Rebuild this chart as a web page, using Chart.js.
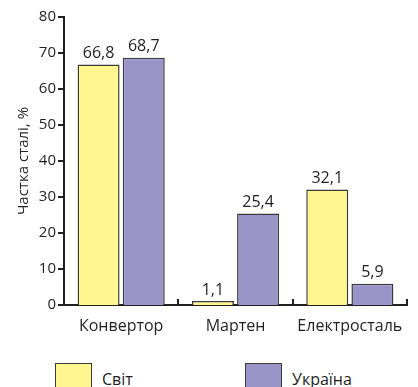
<!DOCTYPE html>
<html>
<head>
<meta charset="utf-8">
<script src="https://cdn.jsdelivr.net/npm/chart.js@4"></script>
<style>
  html, body { margin: 0; padding: 0; background: #fff; overflow: hidden; }
  #wrap { position: relative; width: 418px; height: 387px; }
  #legend { position: absolute; left: 0; top: 363px; width: 418px; font-family: "Open Sans", sans-serif; font-size: 16px; color: #231f20; }
  .item { position: absolute; top: 0; display: flex; align-items: flex-start; }
  .box { width: 37px; height: 26px; box-sizing: border-box; border: 1.5px solid #3a3a3a; margin-right: 10px; }
  .txt { line-height: 20px; padding-top: 6px; }
</style>
</head>
<body>
<div id="wrap">
  <canvas id="chart" width="418" height="350"></canvas>
  <div id="legend"></div>
</div>
<script>
  const categories = ["Конвертор", "Мартен", "Електросталь"];
  const seriesNames = ["Світ", "Україна"];
  const svit = [66.8, 1.1, 32.1];
  const ukraina = [68.7, 25.4, 5.9];
  const yTicks = [0, 10, 20, 30, 40, 50, 60, 70, 80];

  const colors = ["#fff68f", "#9b94c9"];
  const ink = "#231f20";
  const font = "'Open Sans', sans-serif";

  // підписи значень і риски осей
  const decorations = {
    id: "decorations",
    afterDatasetsDraw(chart) {
      const ctx = chart.ctx;
      const x = chart.scales.x, y = chart.scales.y;
      ctx.save();
      ctx.font = "16px " + font;
      ctx.fillStyle = ink;
      ctx.textAlign = "center";
      ctx.textBaseline = "bottom";
      chart.data.datasets.forEach((ds, i) => {
        chart.getDatasetMeta(i).data.forEach((bar, j) => {
          ctx.fillText(ds.data[j].toFixed(1).replace(".", ","), bar.x, bar.y - 3);
        });
      });

      ctx.strokeStyle = ink;
      ctx.lineWidth = 2;
      const step = (x.right - x.left) / categories.length;
      for (let i = 1; i <= categories.length; i++) {
        const px = Math.round(x.left + i * step);
        ctx.beginPath();
        ctx.moveTo(px, x.top);
        ctx.lineTo(px, x.top - 6);
        ctx.stroke();
      }
      y.ticks.forEach(t => {
        const py = Math.round(y.getPixelForValue(t.value));
        ctx.beginPath();
        ctx.moveTo(y.right, py);
        ctx.lineTo(y.right - 6, py);
        ctx.stroke();
      });
      ctx.restore();
    }
  };

  const chart = new Chart(document.getElementById("chart"), {
    type: "bar",
    data: {
      labels: categories,
      datasets: [
        { label: seriesNames[0], data: svit, backgroundColor: colors[0] },
        { label: seriesNames[1], data: ukraina, backgroundColor: colors[1] }
      ]
    },
    options: {
      responsive: false,
      animation: false,
      layout: { padding: { top: 17, right: 11, left: 0, bottom: 0 } },
      datasets: {
        bar: {
          borderColor: "#3a3a3a",
          borderWidth: 1.5,
          categoryPercentage: 0.79,
          barPercentage: 0.93
        }
      },
      plugins: {
        legend: { display: false },
        tooltip: { enabled: false }
      },
      scales: {
        x: {
          grid: { display: false, drawTicks: false },
          border: { display: true, color: ink, width: 2 },
          ticks: { color: ink, font: { family: font, size: 16 }, padding: 12 },
          afterFit(scale) { scale.height = 45; }
        },
        y: {
          min: 0,
          max: 80,
          afterBuildTicks(scale) { scale.ticks = yTicks.map(v => ({ value: v })); },
          grid: { display: false, drawTicks: false },
          border: { display: true, color: ink, width: 2 },
          ticks: { color: ink, font: { family: font, size: 15 }, padding: 8 },
          title: {
            display: true,
            text: "Частка сталі, %",
            color: ink,
            font: { family: font, size: 15 },
            padding: { top: 15, bottom: 0 }
          },
          afterFit(scale) { scale.width = 64; }
        }
      }
    },
    plugins: [decorations]
  });

  // легенда внизу
  const legend = document.getElementById("legend");
  const legendX = [55, 245];
  chart.data.datasets.forEach((ds, i) => {
    const item = document.createElement("div");
    item.className = "item";
    item.style.left = legendX[i] + "px";
    item.innerHTML = `<span class="box" style="background:${ds.backgroundColor}"></span><span class="txt">${ds.label}</span>`;
    legend.appendChild(item);
  });
</script>
</body>
</html>
